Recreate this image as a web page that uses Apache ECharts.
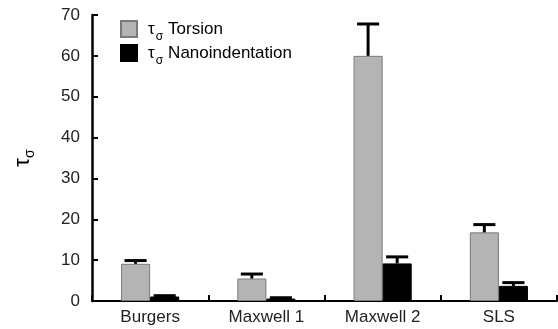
<!DOCTYPE html>
<html><head><meta charset="utf-8">
<script src="https://cdn.jsdelivr.net/npm/echarts@6/dist/echarts.min.js"></script>
<style>html,body{margin:0;padding:0;background:#fff}#c{width:558px;height:329px}</style>
</head><body><div id="c"></div>
<script>
var categories = ['Burgers', 'Maxwell 1', 'Maxwell 2', 'SLS'];
var torsion = [9.1, 5.5, 60.0, 16.8];
var torsionErr = [0.8, 1.1, 7.8, 1.9];
var nano = [1.1, 0.6, 9.2, 3.7];
var nanoErr = [0.2, 0.2, 1.6, 0.8];
var yTicks = [0, 10, 20, 30, 40, 50, 60, 70];

var chart = echarts.init(document.getElementById('c'));
var font = 'Liberation Sans, Arial, sans-serif';
function errSeries(vals, errs, side) {
  return {
    type: 'custom', z: 5,
    data: vals.map(function (v, i) { return [i, v, v + errs[i]]; }),
    renderItem: function (params, api) {
      var bw = api.size([1, 0])[0];
      var off = side * bw * 0.125;
      var p0 = api.coord([api.value(0), api.value(1)]);
      var p1 = api.coord([api.value(0), api.value(2)]);
      var x = p0[0] + off;
      var half = bw * 0.095;
      var st = { stroke: '#000', lineWidth: 3 };
      return { type: 'group', children: [
        { type: 'line', shape: { x1: x, y1: p0[1], x2: x, y2: p1[1] }, style: st },
        { type: 'line', shape: { x1: x - half, y1: p1[1], x2: x + half, y2: p1[1] }, style: st }
      ]};
    }
  };
}
chart.setOption({
  animation: false,
  grid: { left: 92, right: 1, top: 15, bottom: 28 },
  legend: {
    left: 120, top: 15, orient: 'vertical', itemWidth: 16, itemHeight: 16, itemGap: -4,
    icon: 'rect', padding: 0,
    data: ['Torsion', 'Nanoindentation'],
    formatter: function (n) { return '{t|τ}{s|σ}{n|' + n + '}'; },
    textStyle: {
      rich: {
        t: { fontSize: 17, fontFamily: font, color: '#000', lineHeight: 20, padding: [0, 0, 0, 6] },
        s: { fontSize: 12, fontFamily: font, color: '#000', lineHeight: 20, padding: [16, 5, 0, 1] },
        n: { fontSize: 17, fontFamily: font, color: '#000', lineHeight: 20 }
      }
    }
  },
  xAxis: {
    type: 'category', data: categories,
    axisLine: { lineStyle: { color: '#000', width: 2 } },
    axisTick: { show: true, inside: true, length: 6, lineStyle: { color: '#000', width: 2 } },
    axisLabel: { fontSize: 17, fontFamily: font, color: '#222', margin: 8 }
  },
  yAxis: {
    type: 'value', min: 0, max: 70, interval: 10,
    name: '{t|τ}{s|σ}', nameLocation: 'middle', nameGap: 55, nameRotate: 90,
    nameTextStyle: {
      rich: {
        t: { fontSize: 22, fontFamily: font, color: '#000' },
        s: { fontSize: 14, fontFamily: font, color: '#000', padding: [14, 0, 0, 0] }
      }
    },
    axisLine: { show: true, lineStyle: { color: '#000', width: 2.5 } },
    axisTick: { show: true, inside: true, length: 6, lineStyle: { color: '#000', width: 2 } },
    splitLine: { show: false },
    axisLabel: { fontSize: 17, fontFamily: font, color: '#222', margin: 12,
      formatter: function (v) { return yTicks.indexOf(v) >= 0 ? String(v) : ''; } }
  },
  series: [
    { name: 'Torsion', type: 'bar', data: torsion, barWidth: '25%', barGap: '0%',
      itemStyle: { color: '#b4b4b4', borderColor: '#7a7a7a', borderWidth: 1 } },
    { name: 'Nanoindentation', type: 'bar', data: nano, barWidth: '25%', barGap: '0%',
      itemStyle: { color: '#000', borderColor: '#000', borderWidth: 1 } },
    errSeries(torsion, torsionErr, -1),
    errSeries(nano, nanoErr, 1)
  ]
});
</script></body></html>
